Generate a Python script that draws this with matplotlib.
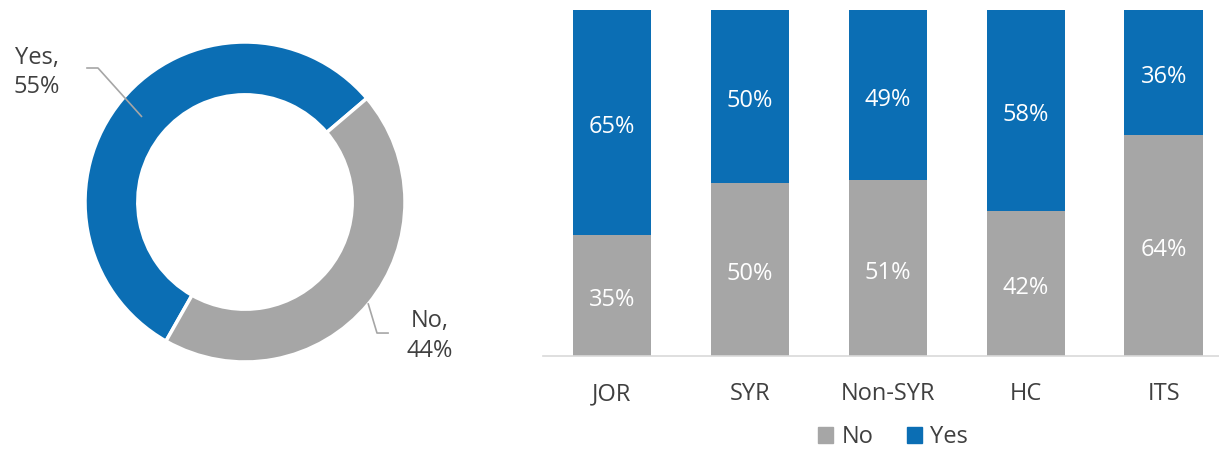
import numpy as np
import matplotlib
matplotlib.use("Agg")
import matplotlib.pyplot as plt
from matplotlib.patches import Patch

plt.rcParams["font.family"] = ["Open Sans", "DejaVu Sans"]

# donut data
donut_labels = ["Yes", "No"]
donut_values = [55, 44]

# stacked bars data
groups = ["JOR", "SYR", "Non-SYR", "HC", "ITS"]
no_vals = [35, 50, 51, 42, 64]
yes_vals = [65, 50, 49, 58, 36]

BLUE = "#0B6EB4"
GRAY = "#A6A6A6"
TEXT = "#404040"

fig = plt.figure(figsize=(12.19, 4.5), dpi=100)
fig.patch.set_facecolor("white")

# ---- donut ----
ax_d = fig.add_axes([85 / 1219, 88 / 450, 320 / 1219, 320 / 450])
start = 40.4
wedges, _ = ax_d.pie(
    donut_values,
    colors=[BLUE, GRAY],
    startangle=start,
    counterclock=True,
    radius=1.0,
    wedgeprops=dict(width=0.33, edgecolor="white", linewidth=2.5),
)
ax_d.set_xlim(-1, 1)
ax_d.set_ylim(-1, 1)
ax_d.set_aspect("equal")
ax_d.axis("off")

total = sum(donut_values)
angles = []
a = start
for v in donut_values:
    span = 360 * v / total
    angles.append(a + span / 2)
    a += span

# leader lines: wedge point -> elbow -> end near label
leaders = [
    dict(r=0.84, elbow=(-0.919, 0.8375), end=(-0.9875, 0.8375),
         text=(-1.30, 0.81), label="Yes,\n55%"),
    dict(r=1.0, elbow=(0.825, -0.819), end=(0.894, -0.819),
         text=(1.156, -0.8375), label="No,\n44%"),
]
for ang, ld in zip(angles, leaders):
    th = np.deg2rad(ang)
    p0 = (ld["r"] * np.cos(th), ld["r"] * np.sin(th))
    ax_d.plot([p0[0], ld["elbow"][0], ld["end"][0]],
              [p0[1], ld["elbow"][1], ld["end"][1]],
              color="#A6A6A6", linewidth=1.2, clip_on=False)
    ax_d.text(ld["text"][0], ld["text"][1], ld["label"], ha="center", va="center",
              fontsize=17, color=TEXT, linespacing=1.3)

# ---- stacked bars ----
ax = fig.add_axes([543 / 1219, 94 / 450, 676 / 1219, 346 / 450])
x = np.arange(len(groups))
w = 0.57
ax.bar(x, no_vals, width=w, color=GRAY, label="No")
ax.bar(x, yes_vals, width=w, bottom=no_vals, color=BLUE, label="Yes")

for i in range(len(groups)):
    ax.annotate(f"{no_vals[i]}%", (x[i], no_vals[i] / 2), xytext=(0, -3.5),
                textcoords="offset points", ha="center", va="center",
                color="white", fontsize=17)
    ax.annotate(f"{yes_vals[i]}%", (x[i], no_vals[i] + yes_vals[i] / 2), xytext=(0, -3.5),
                textcoords="offset points", ha="center", va="center",
                color="white", fontsize=17)

ax.set_xlim(-0.5, 4.40)
ax.set_ylim(0, 100)
ax.set_xticks(x)
ax.set_xticklabels(groups, fontsize=17, color=TEXT)
ax.tick_params(axis="x", length=0, pad=19)
ax.set_yticks([])
for s in ["top", "right", "left"]:
    ax.spines[s].set_visible(False)
ax.spines["bottom"].set_color("#D9D9D9")
ax.spines["bottom"].set_linewidth(1.2)

handles = [Patch(color=GRAY), Patch(color=BLUE)]
fig.legend(handles, ["No", "Yes"], loc="center", bbox_to_anchor=(893 / 1219, 13 / 450),
           ncol=2, frameon=False, fontsize=17, handlelength=0.65, handleheight=0.65,
           handletextpad=0.35, columnspacing=1.4, labelcolor=TEXT)

fig.savefig("out.png", dpi=100, facecolor="white")
